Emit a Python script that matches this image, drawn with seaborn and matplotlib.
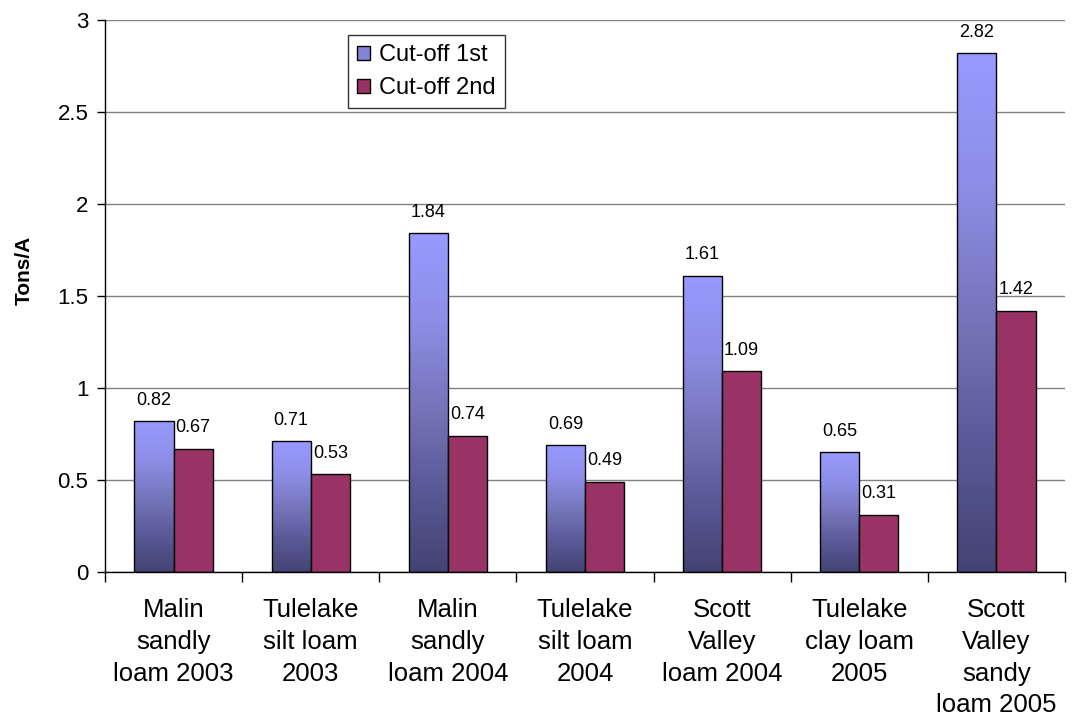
import numpy as np
import pandas as pd
import matplotlib
matplotlib.use("Agg")
import matplotlib.pyplot as plt
import seaborn as sns
from matplotlib.patches import Patch
from matplotlib.colors import LinearSegmentedColormap

categories = ["Malin\nsandly\nloam 2003", "Tulelake\nsilt loam\n2003", "Malin\nsandly\nloam 2004",
              "Tulelake\nsilt loam\n2004", "Scott\nValley\nloam 2004", "Tulelake\nclay loam\n2005",
              "Scott\nValley\nsandy\nloam 2005"]
series_names = ["Cut-off 1st", "Cut-off 2nd"]
cutoff_1st = [0.82, 0.71, 1.84, 0.69, 1.61, 0.65, 2.82]
cutoff_2nd = [0.67, 0.53, 0.74, 0.49, 1.09, 0.31, 1.42]
y_ticks = [0, 0.5, 1, 1.5, 2, 2.5, 3]
y_ticklabels = ["0", "0.5", "1", "1.5", "2", "2.5", "3"]

df = pd.DataFrame({
    "category": categories * 2,
    "series": [series_names[0]] * len(categories) + [series_names[1]] * len(categories),
    "value": cutoff_1st + cutoff_2nd,
})

sns.set_style("white")
plt.rcParams["font.family"] = ["Liberation Sans", "DejaVu Sans"]
plt.rcParams.update({"text.color": "black", "axes.labelcolor": "black",
                     "xtick.color": "black", "ytick.color": "black"})

fig = plt.figure(figsize=(10.78, 7.19), dpi=100)
ax = fig.add_axes([105 / 1078, 1 - 572 / 719, 960 / 1078, 552 / 719])

sns.barplot(data=df, x="category", y="value", hue="series", order=categories,
            hue_order=series_names, palette=["#9999FF", "#993366"], width=0.57,
            saturation=1, edgecolor="black", linewidth=1.0, ax=ax, legend=False, zorder=3)

# gradient fill for first series
cmap = LinearSegmentedColormap.from_list(
    "grad", [(0.0, "#434373"), (0.25, "#5A5A98"), (0.5, "#7676BC"),
             (0.75, "#8E8EE8"), (1.0, "#9999FF")])
grad = np.linspace(0, 1, 256).reshape(-1, 1)
cont1 = ax.containers[0]
for p in cont1.patches:
    x0, y0 = p.get_x(), p.get_y()
    w, h = p.get_width(), p.get_height()
    im = ax.imshow(grad, cmap=cmap, origin="lower", aspect="auto",
                   extent=[x0, x0 + w, y0, y0 + h], zorder=2.9, interpolation="bilinear")
    im.set_clip_path(p)
    p.set_facecolor("none")

for cont in ax.containers:
    ax.bar_label(cont, labels=[f"{v:.2f}" for v in cont.datavalues], padding=9,
                 fontsize=13, color="black")

ax.set_xlim(-0.5, len(categories) - 0.5)
ax.set_ylim(0, 3)
ax.set_yticks(y_ticks)
ax.set_yticklabels(y_ticklabels, fontsize=16, color="black")
ax.set_xticks(range(len(categories)))
ax.set_xticklabels(categories, fontsize=18.5, linespacing=1.4, color="black")
ax.set_xticks(np.arange(-0.5, len(categories), 1), minor=True)
ax.tick_params(axis="x", which="major", bottom=True, length=0, pad=19)
ax.tick_params(axis="x", which="minor", bottom=True, length=7, width=1, color="black", direction="out")
ax.tick_params(axis="y", which="major", left=True, length=6, width=1, color="black", direction="out", pad=6)
ax.set_xlabel("")
ax.set_ylabel("Tons/A", fontsize=15, fontweight="bold", color="black")
ax.yaxis.set_label_coords(-0.074, 0.547)

ax.yaxis.grid(True, color="#808080", linewidth=1)
ax.set_axisbelow(True)
for s in ["top", "right"]:
    ax.spines[s].set_visible(False)
for s in ["left", "bottom"]:
    ax.spines[s].set_color("black")
    ax.spines[s].set_linewidth(1)
    ax.spines[s].set_zorder(5)

handles = [Patch(facecolor="#8484D6", edgecolor="black", linewidth=1),
           Patch(facecolor="#993366", edgecolor="black", linewidth=1)]
leg = ax.legend(handles, series_names, loc="upper left", bbox_to_anchor=(0.253, 0.973),
                fontsize=17, frameon=True, fancybox=False, edgecolor="black",
                handlelength=0.55, handleheight=0.55, handletextpad=0.35,
                borderpad=0.4, labelspacing=0.45, borderaxespad=0)
leg.get_frame().set_linewidth(1)
for t in leg.get_texts():
    t.set_color("black")

fig.savefig("out.png", dpi=100)
